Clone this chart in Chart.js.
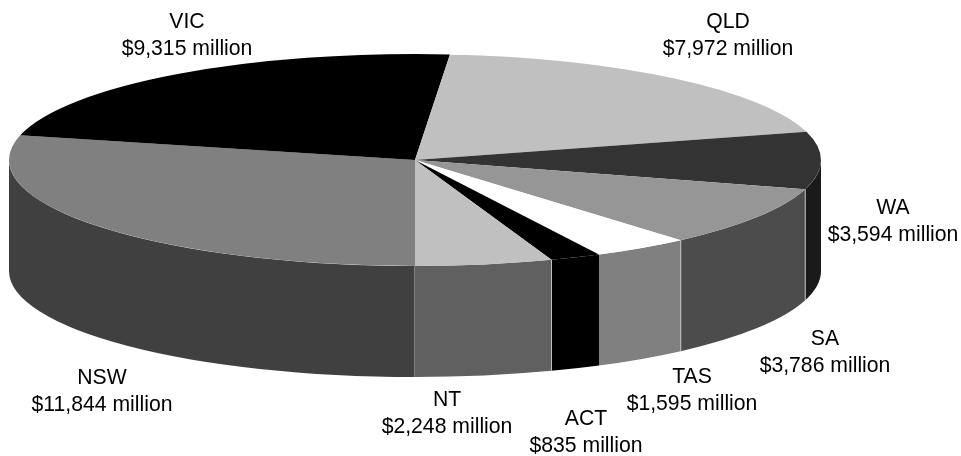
<!DOCTYPE html>
<html>
<head>
<meta charset="utf-8">
<title>Pie</title>
<script src="https://cdn.jsdelivr.net/npm/chart.js@4"></script>
<style>
  html, body { margin: 0; padding: 0; background: #fff; }
  #wrap { position: relative; width: 961px; height: 456px; }
</style>
</head>
<body>
<div id="wrap"><canvas id="pie" width="961" height="456"></canvas></div>
<script>
// Chart data, clockwise from the front of the pie
const states = ['NSW', 'VIC', 'QLD', 'WA', 'SA', 'TAS', 'ACT', 'NT'];
const amounts = [11844, 9315, 7972, 3594, 3786, 1595, 835, 2248];
const amountLabels = ['$11,844 million', '$9,315 million', '$7,972 million', '$3,594 million', '$3,786 million', '$1,595 million', '$835 million', '$2,248 million'];

const topColors = ['#808080', '#000000', '#c0c0c0', '#333333', '#969696', '#ffffff', '#000000', '#c0c0c0'];
const wallColors = ['#404040', '#000000', '#606060', '#1a1a1a', '#4c4c4c', '#808080', '#000000', '#606060'];
// which slices get a light seam on the wall at their start angle
const wallSeams = [true, false, false, false, true, true, false, true];

// label centres (x, first baseline y)
const labelX = [102, 187, 728, 893, 825, 692, 586, 447];
const labelY = [384, 28, 28, 214, 345, 383, 425, 406];

const CX = 415, CY = 160, RX = 406, RY = 106, DEPTH = 111;

// Pie controller that squashes the disc and adds the side wall
class Pie3D extends Chart.PieController {
  draw() {
    const ctx = this.chart.ctx;
    const arcs = this._cachedMeta.data;

    ctx.save();
    arcs.forEach((arc, i) => drawWall(ctx, arc, i));
    ctx.restore();

    ctx.save();
    ctx.translate(0, CY);
    ctx.scale(1, RY / RX);
    ctx.translate(0, -CY);
    super.draw();
    ctx.restore();
  }
}
Pie3D.id = 'pie3d';
Pie3D.defaults = Chart.PieController.defaults;
Chart.register(Pie3D);

// Only the front half of the rim is visible
function drawWall(ctx, arc, i) {
  const norm = a => ((a % (2 * Math.PI)) + 2 * Math.PI) % (2 * Math.PI);
  const from = norm(arc.startAngle);
  const to = from + (arc.endAngle - arc.startAngle);
  [[0, Math.PI], [2 * Math.PI, 3 * Math.PI]].forEach(([lo, hi]) => {
    const a = Math.max(from, lo);
    const b = Math.min(to, hi);
    if (b <= a) return;
    ctx.beginPath();
    ctx.ellipse(CX, CY, RX, RY, 0, a, b);
    ctx.ellipse(CX, CY + DEPTH, RX, RY, 0, b, a, true);
    ctx.closePath();
    ctx.fillStyle = wallColors[i];
    ctx.fill();
  });
  if (wallSeams[i]) {
    const x = CX + RX * Math.cos(from);
    const y = CY + RY * Math.sin(from);
    ctx.beginPath();
    ctx.moveTo(x, y);
    ctx.lineTo(x, y + DEPTH);
    ctx.strokeStyle = '#c0c0c0';
    ctx.lineWidth = 1;
    ctx.stroke();
  }
}

const labelPlugin = {
  id: 'sliceLabels',
  afterDraw(chart) {
    const ctx = chart.ctx;
    ctx.save();
    ctx.font = '21.2px "Liberation Sans", Arial, sans-serif';
    ctx.fillStyle = '#000';
    ctx.textAlign = 'center';
    states.forEach((name, i) => {
      ctx.fillText(name, labelX[i], labelY[i]);
      ctx.fillText(amountLabels[i], labelX[i], labelY[i] + 27);
    });
    ctx.restore();
  }
};

new Chart(document.getElementById('pie'), {
  type: 'pie3d',
  data: {
    labels: states,
    datasets: [{
      data: amounts,
      backgroundColor: topColors,
      borderWidth: 0,
      clip: false
    }]
  },
  options: {
    responsive: false,
    animation: false,
    rotation: 180,
    radius: RX,
    layout: { padding: { left: 0, top: 0, right: 961 - 2 * CX, bottom: 456 - 2 * CY } },
    plugins: { legend: { display: false }, tooltip: { enabled: false } }
  },
  plugins: [labelPlugin]
});
</script>
</body>
</html>
